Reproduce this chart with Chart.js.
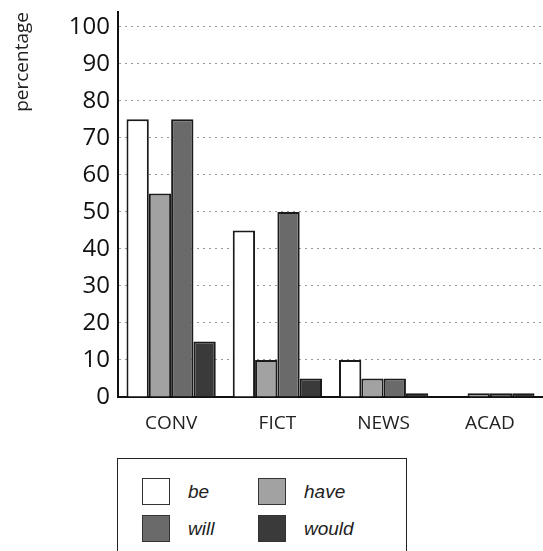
<!DOCTYPE html>
<html>
<head>
<meta charset="utf-8">
<script src="https://cdn.jsdelivr.net/npm/chart.js@4/dist/chart.umd.min.js"></script>
<style>
    body { margin: 0; background: #fff; width: 543px; height: 551px; overflow: hidden; position: relative; }
    #wrap { position: absolute; left: 0; top: 0; width: 543px; height: 440px; }
    #legend {
        position: absolute; left: 117px; top: 458px; width: 290px; height: 120px;
        border: 1.5px solid #222; box-sizing: border-box;
        font-family: "Liberation Sans", sans-serif; font-style: italic; font-size: 19px; color: #222;
    }
    .item { position: absolute; height: 27px; line-height: 27px; }
    .sw { position: absolute; left: 0; top: 0; width: 26px; height: 25px; border: 1px solid #333; }
    .lab { position: absolute; left: 46px; top: 0; white-space: nowrap; }
</style>
</head>
<body>
<div id="wrap"><canvas id="chart" width="543" height="440"></canvas></div>
<div id="legend"></div>
<script>
var categories = ["CONV", "FICT", "NEWS", "ACAD"];
var seriesNames = ["be", "have", "will", "would"];
var beValues = [75, 45, 10, 0.2];
var haveValues = [55, 10, 5, 1];
var willValues = [75, 50, 5, 1];
var wouldValues = [15, 5, 1, 1];
var yTicks = [0, 10, 20, 30, 40, 50, 60, 70, 80, 90, 100];

var fills = ["#ffffff", "#a2a2a2", "#6a6a6a", "#3a3a3a"];
var values = [beValues, haveValues, willValues, wouldValues];

var datasets = [];
for (var i = 0; i < seriesNames.length; i++)
{
    datasets.push({
        label: seriesNames[i],
        data: values[i],
        backgroundColor: fills[i],
        borderColor: "#1a1a1a",
        borderWidth: 2,
        barPercentage: 1,
        categoryPercentage: 0.84
    });
}

new Chart(document.getElementById("chart"), {
    type: "bar",
    data: { labels: categories, datasets: datasets },
    options: {
        responsive: false,
        animation: false,
        layout: { padding: { top: 12, right: 0, left: 0, bottom: 0 } },
        plugins: { legend: { display: false }, tooltip: { enabled: false } },
        scales: {
            x: {
                grid: { display: false, drawTicks: false },
                border: { color: "#111", width: 2 },
                ticks: { color: "#222", padding: 15, font: { family: "Open Sans", size: 19 } },
                afterFit: function(scale) { scale.height = 43; }
            },
            y: {
                min: 0,
                max: 104,
                afterBuildTicks: function(scale) { scale.ticks = yTicks.map(function(v) { return { value: v }; }); },
                grid: {
                    color: function(ctx) { return ctx.tick && ctx.tick.value === 0 ? "rgba(0,0,0,0)" : "#9a9a9a"; },
                    drawTicks: false
                },
                border: { color: "#111", width: 2, dash: [2, 4] },
                ticks: { color: "#111", padding: 8, font: { family: "Open Sans", size: 24 } },
                title: {
                    display: true,
                    text: "percentage",
                    align: "end",
                    color: "#222",
                    padding: { top: 11, bottom: 0 },
                    font: { family: "Open Sans", size: 19 }
                },
                afterFit: function(scale) {
                    scale.width = 118;
                    scale.paddingTop = 0;
                    scale.paddingBottom = 0;
                }
            }
        }
    }
});

// legend boxes laid out as a 2 x 2 grid
var legend = document.getElementById("legend");
var pos = [[24, 19], [140, 19], [24, 56], [140, 56]];
for (var j = 0; j < seriesNames.length; j++)
{
    var item = document.createElement("div");
    item.className = "item";
    item.style.left = pos[j][0] + "px";
    item.style.top = pos[j][1] + "px";
    item.innerHTML = '<div class="sw" style="background:' + fills[j] + '"></div><span class="lab">' + seriesNames[j] + '</span>';
    legend.appendChild(item);
}
</script>
</body>
</html>
